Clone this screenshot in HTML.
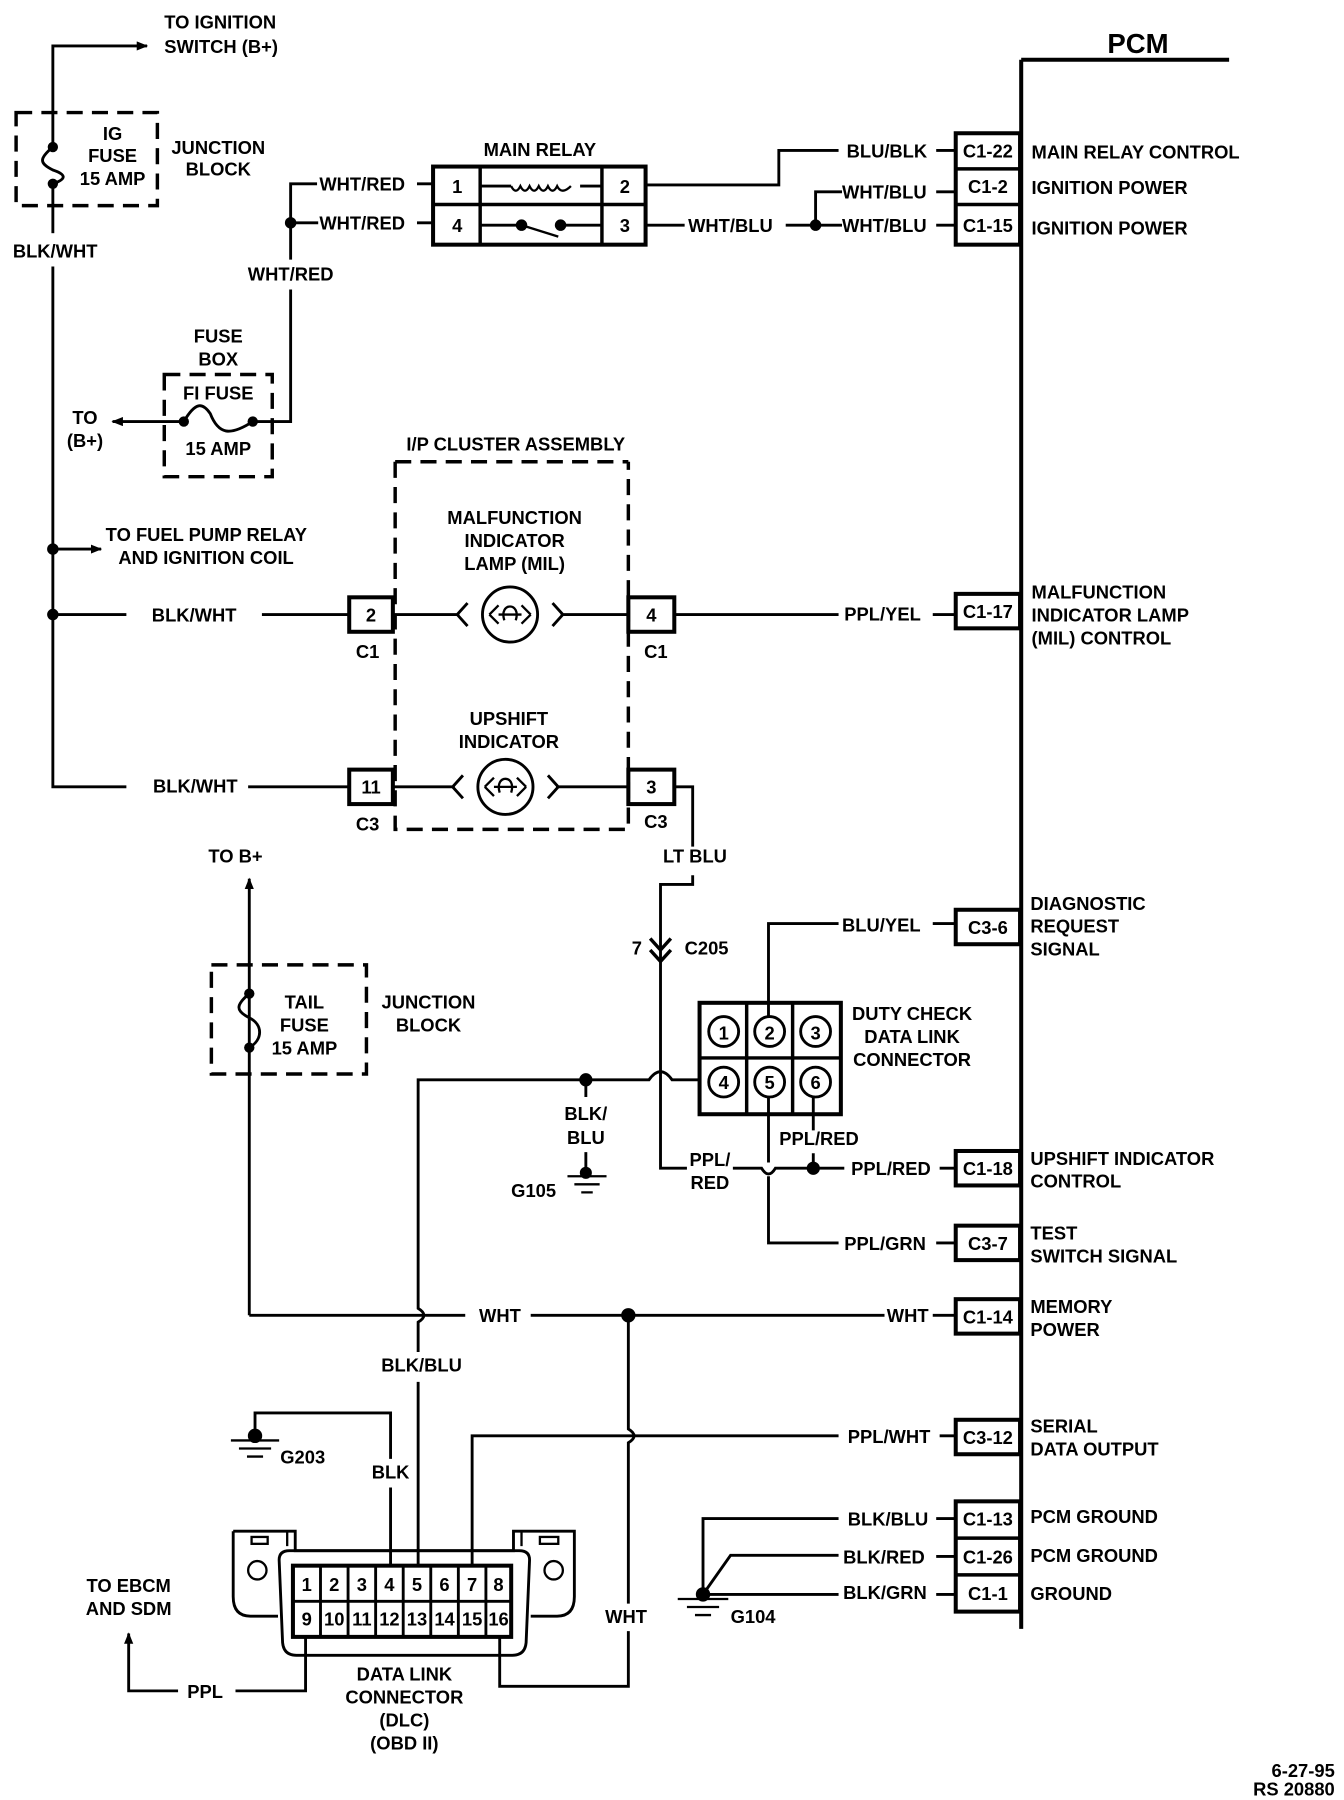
<!DOCTYPE html>
<html><head><meta charset="utf-8"><style>html,body{margin:0;padding:0;background:#fff}svg{display:block}text{font-family:"Liberation Sans",Arial,sans-serif;font-weight:bold;font-size:16px;fill:#000}</style></head><body>
<svg width="1344" height="1800" viewBox="0 0 1170 1567" xmlns="http://www.w3.org/2000/svg">
<defs><marker id="ar" markerWidth="10" markerHeight="8" refX="9" refY="4" orient="auto" markerUnits="userSpaceOnUse"><path d="M0,0 L10,4 L0,8 Z" fill="#000"/></marker></defs>
<g stroke="#000" stroke-width="2.5" fill="none">
<path d="M46,128 V40 H128" marker-end="url(#ar)"/>
<path d="M46,160 V203"/><path d="M46,232 V685 H110"/>
<path d="M46,478 H88" marker-end="url(#ar)"/>
<path d="M46,535 H110"/><path d="M228,535 H304"/><path d="M216,685 H304"/>
<path d="M46,128 C34,138 34,142 46,148 C58,152 58,156 46,160"/>
<rect x="14" y="98" width="123" height="81" stroke-dasharray="14,8" stroke-width="3"/>
<rect x="143" y="326" width="94" height="89" stroke-dasharray="14,8" stroke-width="3"/>
<path d="M160,367 C170,350 176,350 183,360 C190,378 200,380 220,367"/>
<path d="M160,367 H98" marker-end="url(#ar)"/>
<path d="M220,367 H253 V252"/><path d="M253,226 V160 H276"/>
<path d="M253,194 H277"/><path d="M363,160 H377"/><path d="M363,194 H377"/>
<rect x="377" y="145" width="185" height="68" stroke-width="3.5"/>
<path d="M418,146 V212 M524,146 V212 M378,178 H561" stroke-width="3"/>
<path d="M418,162 H445 M505,162 H524"/>
<path d="M445,162 q4,8 8,0 q4,8 8,0 q4,8 8,0 q4,8 8,0 q4,8 8,0 q4,8 12,0" stroke-width="2"/>
<path d="M418,196 H452 M488,196 H524"/>
<path d="M454,196 L486,206" stroke-width="2"/>
<path d="M562,161 H678 V131 H730"/>
<path d="M815,131 H832"/>
<path d="M562,196 H596"/><path d="M684,196 H733 M710,196 V167 H733"/>
<path d="M815,167 H832 M815,196 H832"/>
<rect x="832" y="116" width="56" height="97" stroke-width="3.5"/>
<path d="M833,147 H888 M833,178 H888" stroke-width="3"/>
<path d="M889,52 H1070 M889,52 V1418" stroke-width="3.5"/>
<path d="M344,402 H547 M344,402 V722 H547 V402" stroke-dasharray="14,8" stroke-width="3"/>
<rect x="304" y="520" width="38" height="30" stroke-width="3.5"/>
<rect x="547" y="520" width="40" height="30" stroke-width="3.5"/>
<rect x="304" y="670" width="38" height="30" stroke-width="3.5"/>
<rect x="547" y="670" width="40" height="30" stroke-width="3.5"/>
<circle cx="444" cy="535" r="24"/><circle cx="440" cy="685" r="24"/>
<path d="M342,535 H400 M488,535 H547 M407,525 L398,535 L407,545 M481,525 L490,535 L481,545"/>
<path d="M342,685 H396 M484,685 H547 M403,675 L394,685 L403,695 M477,675 L486,685 L477,695"/>
<path d="M426,535 l8,-8 M426,535 l8,8 M462,535 l-8,-8 M462,535 l-8,8 M434,535 H454 M439,540 C434,524 454,524 449,540" stroke-width="2"/>
<path d="M422,685 l8,-8 M422,685 l8,8 M458,685 l-8,-8 M458,685 l-8,8 M430,685 H450 M435,690 C430,674 450,674 445,690" stroke-width="2"/>
<path d="M587,535 H730 M812,535 H832"/>
<rect x="832" y="517" width="56" height="30" stroke-width="3.5"/>
<path d="M587,685 H603 V737 M603,762 V770 H575 V1017 H598"/>
<path d="M566,817 L575,827 L584,817 M566,827 L575,837 L584,827" stroke-width="3"/>
<path d="M638,1017 H663 q6,10 12,0 H735 M818,1017 H832"/>
<circle cx="708" cy="1017" r="4.5" fill="#000"/>
<rect x="832" y="1002" width="56" height="30" stroke-width="3.5"/>
<rect x="609" y="873" width="123" height="97" stroke-width="3.5"/>
<path d="M650,874 V969 M690,874 V969 M610,921 H731" stroke-width="3"/>
<circle cx="630" cy="898" r="13"/><circle cx="670" cy="898" r="13"/><circle cx="710" cy="898" r="13"/>
<circle cx="630" cy="942" r="13"/><circle cx="670" cy="942" r="13"/><circle cx="710" cy="942" r="13"/>
<path d="M669,885 V804 H730 M812,804 H832"/>
<rect x="832" y="792" width="56" height="30" stroke-width="3.5"/>
<path d="M708,955 V984 M708,1004 V1017"/>
<path d="M669,955 V1012 M669,1024 V1082 H730 M815,1082 H832"/>
<rect x="832" y="1067" width="56" height="30" stroke-width="3.5"/>
<path d="M609,940 H585 q-10,-14 -20,0 H364 V1139 q10,6 0,12 V1177 M364,1203 V1363"/>
<circle cx="510" cy="940" r="4.5" fill="#000"/>
<path d="M510,940 V955 M510,1003 V1020"/>
<circle cx="510" cy="1021" r="4" fill="#000"/>
<path d="M494,1024 H528 M500,1031 H522 M506,1038 H516" stroke-width="2"/>
<rect x="184" y="840" width="135" height="95" stroke-dasharray="14,8" stroke-width="3"/>
<path d="M217,865 C205,875 205,880 217,886 C229,892 229,905 217,912"/>
<path d="M217,1145 V765" marker-end="url(#ar)"/>
<path d="M217,1145 H405 M462,1145 H770 M812,1145 H832"/>
<circle cx="547" cy="1145" r="5" fill="#000"/>
<rect x="832" y="1131" width="56" height="30" stroke-width="3.5"/>
<path d="M547,1145 V1244 q10,6 0,12 V1396 M547,1420 V1468 H435 V1425"/>
<path d="M411,1363 V1250 H730 M818,1250 H832"/>
<rect x="832" y="1236" width="56" height="30" stroke-width="3.5"/>
<path d="M222,1250 V1230 H340 V1270 M340,1295 V1363"/>
<circle cx="222" cy="1250" r="5" fill="#000"/>
<path d="M201,1254 H243 M208,1261 H236 M215,1268 H229" stroke-width="2"/>
<!-- DLC -->
<path d="M203,1333 H257 V1350 H447 V1333 H500 V1390 Q500,1407 485,1407 H462 M203,1333 V1390 Q203,1407 218,1407 H242"/>
<path d="M243,1358 Q243,1350 252,1350 H452 Q461,1350 461,1358 L458,1430 Q457,1441 446,1441 H258 Q247,1441 246,1430 Z"/>
<path d="M250,1334 V1346 M454,1334 V1346" stroke-width="2"/>
<circle cx="224" cy="1367" r="8" stroke-width="2"/><circle cx="482" cy="1367" r="8" stroke-width="2"/>
<rect x="219" y="1338" width="14" height="6" stroke-width="2"/><rect x="470" y="1338" width="16" height="6" stroke-width="2"/>
<rect x="255" y="1363" width="190" height="62" stroke-width="3.5"/>
<path d="M279,1364 V1424 M303,1364 V1424 M327,1364 V1424 M351,1364 V1424 M375,1364 V1424 M399,1364 V1424 M423,1364 V1424 M256,1394 H444" stroke-width="2.5"/>
<path d="M266,1425 V1472 H205 M155,1472 H112 V1422" marker-end="url(#ar)"/>
<path d="M612,1388 V1322 H730 M612,1388 L636,1354 H730 M612,1388 H730 M815,1322 H832 M815,1355 H832 M815,1388 H832"/>
<circle cx="612" cy="1388" r="5" fill="#000"/>
<path d="M590,1392 H634 M598,1399 H626 M605,1406 H619" stroke-width="2"/>
<rect x="832" y="1307" width="56" height="96" stroke-width="3.5"/>
<path d="M833,1339 H888 M833,1371 H888" stroke-width="3"/>
</g>
<g>
<circle cx="46" cy="128" r="4.5"/><circle cx="46" cy="160" r="4.5"/>
<circle cx="46" cy="478" r="5"/><circle cx="46" cy="535" r="5"/>
<circle cx="253" cy="194" r="5"/><circle cx="710" cy="196" r="5"/>
<circle cx="160" cy="367" r="4.5"/><circle cx="220" cy="367" r="4.5"/>
<circle cx="454" cy="196" r="5"/><circle cx="488" cy="196" r="5"/>
<circle cx="217" cy="865" r="4.5"/><circle cx="217" cy="912" r="4.5"/>
</g>
<text x="143" y="25">TO IGNITION</text><text x="143" y="46">SWITCH (B+)</text>
<g text-anchor="middle">
<text x="98" y="122">IG</text><text x="98" y="141">FUSE</text><text x="98" y="161">15 AMP</text>
<text x="190" y="134">JUNCTION</text><text x="190" y="153">BLOCK</text>
<text x="48" y="224">BLK/WHT</text>
<text x="253" y="244">WHT/RED</text>
<text x="190" y="298">FUSE</text><text x="190" y="318">BOX</text>
<text x="190" y="348">FI FUSE</text><text x="190" y="396">15 AMP</text>
<text x="74" y="369">TO</text><text x="74" y="389">(B+)</text>
<text x="470" y="136">MAIN RELAY</text>
<text x="398" y="168">1</text><text x="398" y="202">4</text><text x="544" y="168">2</text><text x="544" y="202">3</text>
<text x="449" y="392">I/P CLUSTER ASSEMBLY</text>
<text x="448" y="456">MALFUNCTION</text><text x="448" y="476">INDICATOR</text><text x="448" y="496">LAMP (MIL)</text>
<text x="443" y="631">UPSHIFT</text><text x="443" y="651">INDICATOR</text>
<text x="323" y="541">2</text><text x="567" y="541">4</text><text x="323" y="691">11</text><text x="567" y="691">3</text>
<text x="320" y="573">C1</text><text x="571" y="573">C1</text><text x="320" y="723">C3</text><text x="571" y="721">C3</text>
<text x="169" y="541">BLK/WHT</text><text x="170" y="690">BLK/WHT</text>
<text x="605" y="751">LT BLU</text>
<text x="618" y="1015">PPL/</text><text x="618" y="1035">RED</text>
<text x="713" y="997">PPL/RED</text>
<text x="510" y="975">BLK/</text><text x="510" y="996">BLU</text>
<text x="205" y="751">TO B+</text>
<text x="265" y="878">TAIL</text><text x="265" y="898">FUSE</text><text x="265" y="918">15 AMP</text>
<text x="373" y="878">JUNCTION</text><text x="373" y="898">BLOCK</text>
<text x="367" y="1194">BLK/BLU</text>
<text x="340" y="1287">BLK</text>
<text x="545" y="1413">WHT</text>
<text x="112" y="1386">TO EBCM</text><text x="112" y="1406">AND SDM</text>
<text x="352" y="1463">DATA LINK</text><text x="352" y="1483">CONNECTOR</text><text x="352" y="1503">(DLC)</text><text x="352" y="1523">(OBD II)</text>
<text x="630" y="905">1</text><text x="670" y="905">2</text><text x="710" y="905">3</text>
<text x="630" y="948">4</text><text x="670" y="948">5</text><text x="710" y="948">6</text>
<text x="794" y="888">DUTY CHECK</text><text x="794" y="908">DATA LINK</text><text x="794" y="928">CONNECTOR</text>
<text x="860" y="137">C1-22</text><text x="860" y="168">C1-2</text><text x="860" y="202">C1-15</text>
<text x="860" y="538">C1-17</text><text x="860" y="813">C3-6</text><text x="860" y="1023">C1-18</text>
<text x="860" y="1088">C3-7</text><text x="860" y="1152">C1-14</text><text x="860" y="1257">C3-12</text>
<text x="860" y="1328">C1-13</text><text x="860" y="1361">C1-26</text><text x="860" y="1393">C1-1</text>
</g>
<g text-anchor="middle" style="font-size:13px">
<text x="267" y="1385">1</text><text x="291" y="1385">2</text><text x="315" y="1385">3</text><text x="339" y="1385">4</text><text x="363" y="1385">5</text><text x="387" y="1385">6</text><text x="411" y="1385">7</text><text x="434" y="1385">8</text>
<text x="267" y="1415">9</text><text x="291" y="1415">10</text><text x="315" y="1415">11</text><text x="339" y="1415">12</text><text x="363" y="1415">13</text><text x="387" y="1415">14</text><text x="411" y="1415">15</text><text x="434" y="1415">16</text>
</g>
<text x="278" y="166">WHT/RED</text><text x="278" y="200">WHT/RED</text>
<text x="599" y="202">WHT/BLU</text>
<text x="737" y="137">BLU/BLK</text><text x="733" y="173">WHT/BLU</text><text x="733" y="202">WHT/BLU</text>
<text x="92" y="471">TO FUEL PUMP RELAY</text><text x="103" y="491">AND IGNITION COIL</text>
<text x="735" y="540">PPL/YEL</text>
<text x="550" y="831">7</text><text x="596" y="831">C205</text>
<text x="733" y="811">BLU/YEL</text>
<text x="741" y="1023">PPL/RED</text>
<text x="735" y="1088">PPL/GRN</text>
<text x="445" y="1042">G105</text>
<text x="417" y="1151">WHT</text><text x="772" y="1151">WHT</text>
<text x="738" y="1256">PPL/WHT</text>
<text x="244" y="1274">G203</text>
<text x="163" y="1478">PPL</text>
<text x="738" y="1328">BLK/BLU</text><text x="734" y="1361">BLK/RED</text><text x="734" y="1392">BLK/GRN</text>
<text x="636" y="1413">G104</text>
<text x="964" y="46" style="font-size:24px">PCM</text>
<text x="898" y="138">MAIN RELAY CONTROL</text><text x="898" y="169">IGNITION POWER</text><text x="898" y="204">IGNITION POWER</text>
<text x="898" y="521">MALFUNCTION</text><text x="898" y="541">INDICATOR LAMP</text><text x="898" y="561">(MIL) CONTROL</text>
<text x="897" y="792">DIAGNOSTIC</text><text x="897" y="812">REQUEST</text><text x="897" y="832">SIGNAL</text>
<text x="897" y="1014">UPSHIFT INDICATOR</text><text x="897" y="1034">CONTROL</text>
<text x="897" y="1079">TEST</text><text x="897" y="1099">SWITCH SIGNAL</text>
<text x="897" y="1143">MEMORY</text><text x="897" y="1163">POWER</text>
<text x="897" y="1247">SERIAL</text><text x="897" y="1267">DATA OUTPUT</text>
<text x="897" y="1326">PCM GROUND</text><text x="897" y="1360">PCM GROUND</text><text x="897" y="1393">GROUND</text>
<text x="1162" y="1547" text-anchor="end">6-27-95</text><text x="1162" y="1563" text-anchor="end">RS 20880</text>
</svg>
</body></html>
